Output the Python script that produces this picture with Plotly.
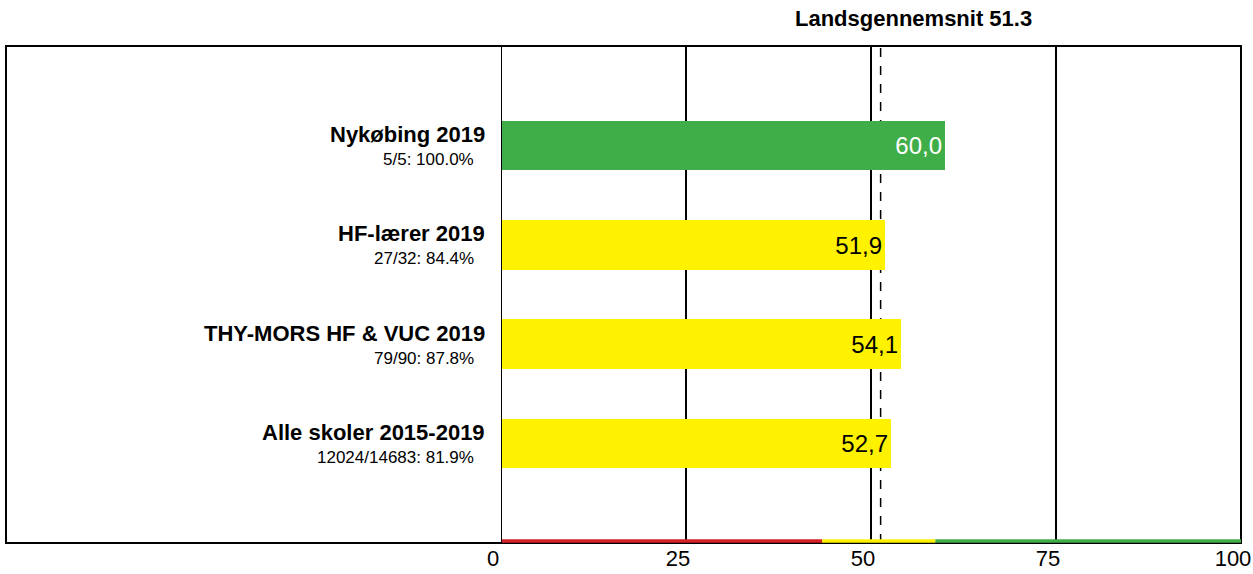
import plotly.graph_objects as go

categories = ["Nykøbing 2019", "HF-lærer 2019", "THY-MORS HF & VUC 2019", "Alle skoler 2015-2019"]
sublabels = ["5/5: 100.0%", "27/32: 84.4%", "79/90: 87.8%", "12024/14683: 81.9%"]
values = [60.0, 51.9, 54.1, 52.7]
national_avg = 51.3
low_threshold = 43.4
high_threshold = 58.7
tick_vals = [0, 25, 50, 75, 100]
tick_labels = ["0", "25", "50", "75", "100"]

RED = "#d42027"
YELLOW = "#fff200"
GREEN = "#3fae49"
FONT = "Liberation Sans, Arial"

def color_for(v):
    if v >= high_threshold:
        return GREEN
    if v >= low_threshold:
        return YELLOW
    return RED

bar_colors = [color_for(v) for v in values]
text_colors = ["white" if c == GREEN else "black" for c in bar_colors]
positions = list(range(1, len(categories) + 1))

W, H = 1253, 574
ML, MR, MT, MB = 501, 12, 46, 31
plot_w = W - ML - MR

fig = go.Figure()
fig.add_trace(go.Bar(
    x=values, y=positions, orientation="h",
    marker=dict(color=bar_colors, line=dict(width=0)),
    width=0.5,
    text=[f"{v:.1f}".replace(".", ",") for v in values],
    textposition="inside", insidetextanchor="end",
    textfont=dict(size=24, color=text_colors, family=FONT),
    hoverinfo="skip",
))

shapes = []
frame_left = (6 - ML) / plot_w
shapes.append(dict(type="rect", xref="paper", yref="paper", x0=frame_left, x1=1, y0=0, y1=1,
                   line=dict(color="black", width=2), layer="above"))
shapes.append(dict(type="line", xref="x", yref="paper", x0=national_avg, x1=national_avg, y0=0, y1=1,
                   line=dict(color="black", width=1.5, dash="dash"), layer="below"))
for x0, x1, c in [(0, low_threshold, RED), (low_threshold, high_threshold, YELLOW), (high_threshold, 100, GREEN)]:
    shapes.append(dict(type="line", xref="x", yref="paper", x0=x0, x1=x1, y0=0.004, y1=0.004,
                       line=dict(color=c, width=3.5), layer="above"))
shapes.append(dict(type="line", xref="x", yref="paper", x0=0, x1=0, y0=0, y1=1,
                   line=dict(color="black", width=2), layer="above"))

annotations = []
for p, cat, sub in zip(positions, categories, sublabels):
    annotations.append(dict(x=0, y=p, xref="x", yref="y", text=f"<b>{cat}</b>", showarrow=False,
                            xanchor="right", yanchor="middle", xshift=-14, yshift=11,
                            font=dict(size=22, color="black", family=FONT)))
    annotations.append(dict(x=0, y=p, xref="x", yref="y", text=sub, showarrow=False,
                            xanchor="right", yanchor="middle", xshift=-25, yshift=-14,
                            font=dict(size=17, color="black", family=FONT)))
annotations.append(dict(x=national_avg, y=1, xref="x", yref="paper",
                        text=f"<b>Landsgennemsnit {national_avg}</b>", showarrow=False,
                        xanchor="center", yanchor="bottom", xshift=33, yshift=13,
                        font=dict(size=22, color="black", family=FONT)))

fig.update_layout(
    width=W, height=H, autosize=False,
    margin=dict(l=ML, r=MR, t=MT, b=MB, autoexpand=False),
    paper_bgcolor="white", plot_bgcolor="white",
    showlegend=False,
    shapes=shapes, annotations=annotations,
    xaxis=dict(range=[0, 100], tickvals=tick_vals, ticktext=tick_labels,
               showgrid=True, gridcolor="black", gridwidth=1.5,
               zeroline=False, showline=False, ticks="", automargin=False,
               tickfont=dict(size=22, color="black", family=FONT),
               ticklabelshift=-8, ticklabelstandoff=0, fixedrange=True),
    yaxis=dict(range=[5, 0], showgrid=False, zeroline=False, showticklabels=False,
               showline=False, ticks="", automargin=False, fixedrange=True),
    bargap=0,
)

fig.write_html("out.html", config={"displayModeBar": False, "responsive": False},
               post_script="document.body.style.margin='0';document.body.style.padding='0';document.body.style.overflow='hidden';")
